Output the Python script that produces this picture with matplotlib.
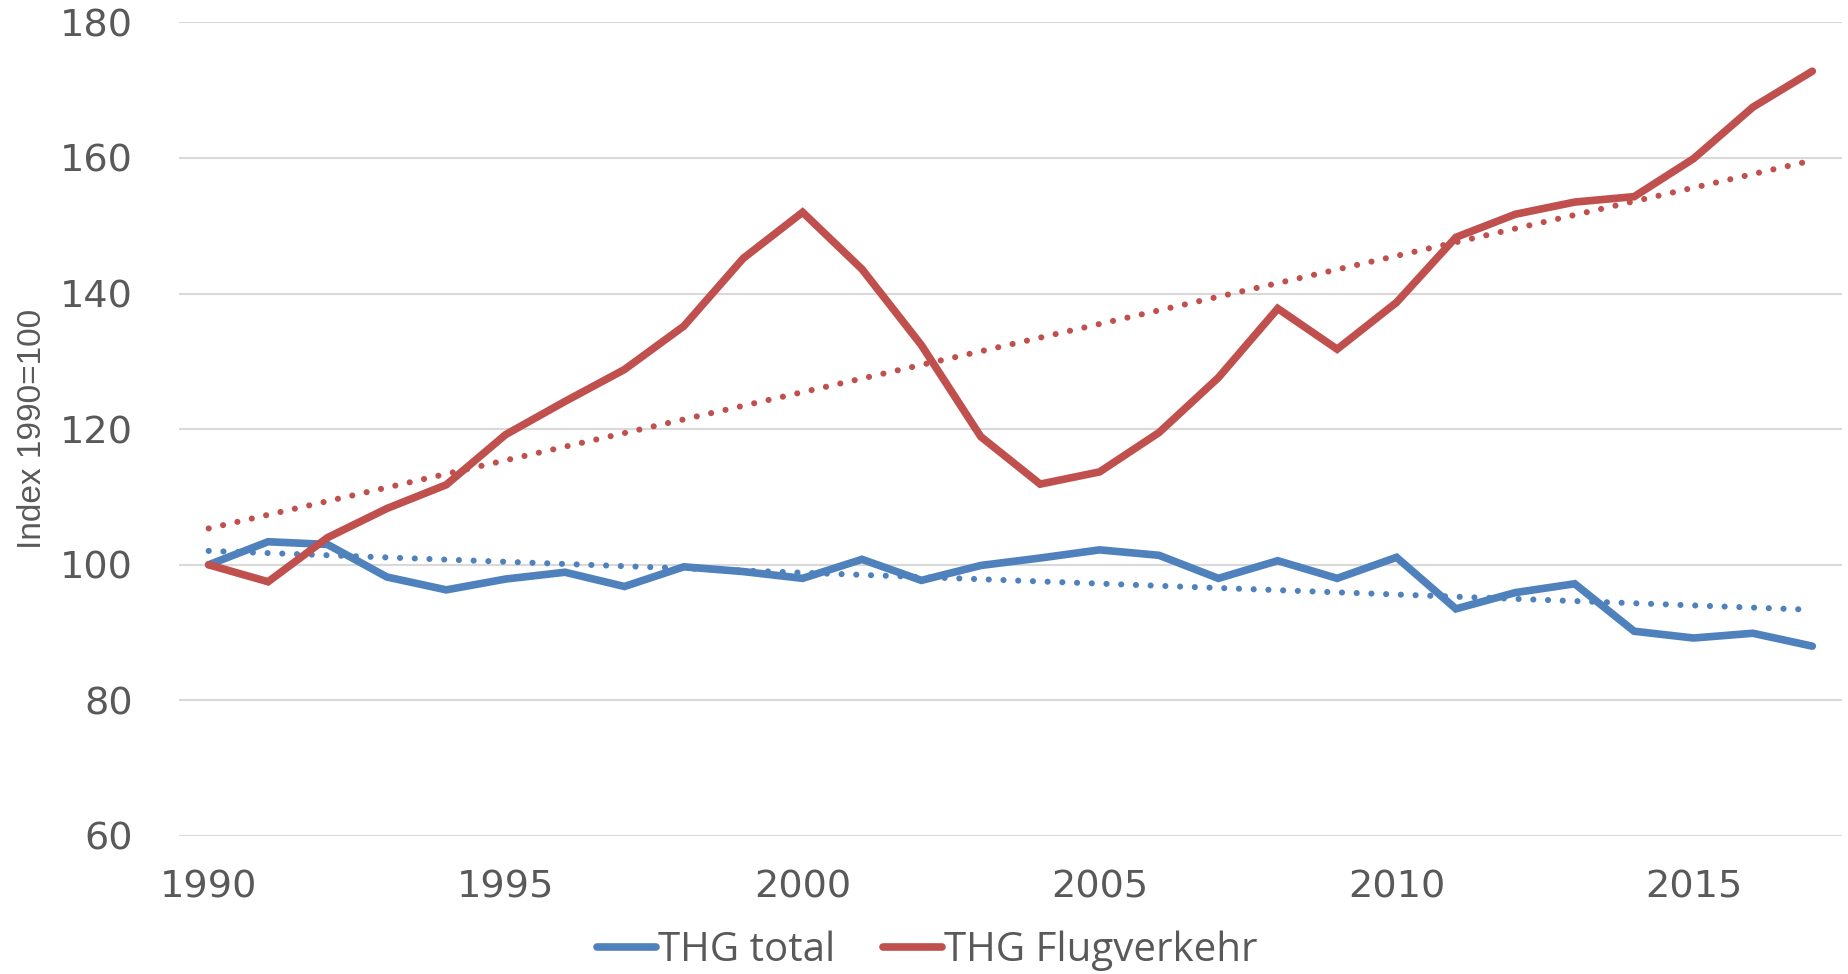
import numpy as np
import matplotlib.pyplot as plt

# Daten (Index 1990 = 100)
jahre = np.arange(1990, 2018)
thg_total = [100.0, 103.4, 103.0, 98.2, 96.3, 97.9, 98.9, 96.8, 99.7, 99.0,
             98.0, 100.8, 97.7, 99.9, 101.0, 102.2, 101.4, 98.0, 100.6, 98.0,
             101.1, 93.5, 95.9, 97.2, 90.2, 89.2, 89.9, 88.0]
thg_flug = [100.0, 97.5, 104.0, 108.3, 111.8, 119.2, 124.1, 128.8, 135.2, 145.2,
            152.0, 143.6, 132.4, 118.9, 111.9, 113.7, 119.5, 127.6, 137.8, 131.8,
            138.7, 148.3, 151.7, 153.5, 154.3, 159.9, 167.5, 172.8]
xticks = [1990, 1995, 2000, 2005, 2010, 2015]
yticks = [60, 80, 100, 120, 140, 160, 180]

blau = '#4F81BD'
rot = '#C0504D'
grau = '#595959'

fig = plt.figure(figsize=(18.49, 9.74), dpi=100)
ax = fig.add_axes([0.0968, 0.1417, 0.8994, 0.8353])

ax.plot(jahre, thg_total, color=blau, lw=5.5, solid_capstyle='round',
        solid_joinstyle='miter', label='THG total', zorder=3)
ax.plot(jahre, thg_flug, color=rot, lw=5.5, solid_capstyle='round',
        solid_joinstyle='miter', label='THG Flugverkehr', zorder=3)

# lineare Trendlinien
for werte, farbe in [(thg_total, blau), (thg_flug, rot)]:
    k, d = np.polyfit(jahre, werte, 1)
    ax.plot(jahre, k * jahre + d, color=farbe, lw=4.4,
            linestyle=(0, (0.01, 2.4)), dash_capstyle='round', zorder=2)

ax.set_xlim(1989.5, 2017.5)
ax.set_ylim(60, 180)
ax.set_xticks(xticks)
ax.set_yticks(yticks)
ax.tick_params(length=0, colors=grau, labelsize=27.5)
ax.tick_params(axis='y', pad=33)
ax.tick_params(axis='x', pad=24)
ax.grid(axis='y', color='#D9D9D9', lw=1.5)
ax.set_axisbelow(True)
for s in ax.spines.values():
    s.set_visible(False)

ax.set_ylabel('Index 1990=100', fontsize=24, color=grau, family='Liberation Sans')
ax.yaxis.set_label_coords(-0.079, 0.5)

leg = fig.legend(loc='center', bbox_to_anchor=(0.5015, 0.024), ncol=2,
                 frameon=False, handlelength=1.45,
                 handletextpad=0.05, columnspacing=1.2,
                 prop={'family': 'Open Sans', 'size': 29})
for t in leg.get_texts():
    t.set_color(grau)

fig.savefig('out.png', dpi=100)
